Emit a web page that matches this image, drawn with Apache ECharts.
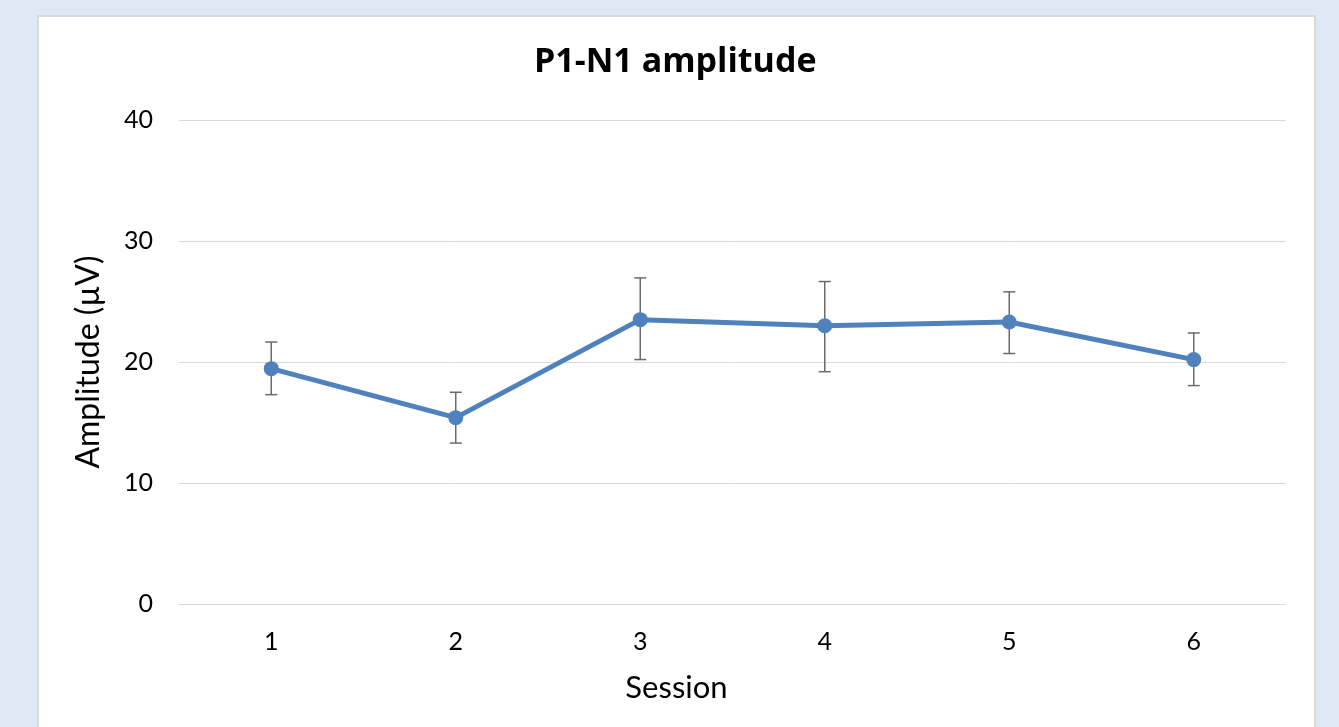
<!DOCTYPE html>
<html>
<head>
<meta charset="utf-8">
<script src="https://cdn.jsdelivr.net/npm/echarts@6/dist/echarts.min.js"></script>
<style>
  html, body { margin: 0; padding: 0; background: #dee9f5; overflow: hidden; }
  #panel { position: absolute; left: 37px; top: 15px; width: 1275px; height: 760px; background: #fff; border: 2px solid #d9d9d9; }
  #main { position: absolute; left: 0; top: 0; width: 1339px; height: 727px; }
</style>
</head>
<body>
<div id="panel"></div>
<div id="main"></div>
<script>
// P1-N1 amplitude per session, with error bar ends
const sessions = ['1', '2', '3', '4', '5', '6'];
const amplitude = [19.45, 15.4, 23.5, 23.0, 23.3, 20.2];
const errHigh = [21.65, 17.5, 26.95, 26.65, 25.8, 22.4];
const errLow = [17.3, 13.3, 20.2, 19.2, 20.7, 18.05];

const chart = echarts.init(document.getElementById('main'));
const font = 'Lato, "Open Sans", sans-serif';

const errData = sessions.map((s, i) => [i, errLow[i], errHigh[i]]);

chart.setOption({
  backgroundColor: 'transparent',
  animation: false,
  title: {
    text: 'P1-N1 amplitude',
    left: 534,
    top: 45,
    padding: 0,
    textStyle: { fontFamily: '"Open Sans", sans-serif', fontSize: 34, fontWeight: 'bold', color: '#000' }
  },
  grid: { left: 179, right: 53, top: 120, bottom: 123 },
  xAxis: {
    type: 'category',
    data: sessions,
    boundaryGap: true,
    name: 'Session',
    nameLocation: 'middle',
    nameGap: 68,
    nameTextStyle: { fontFamily: font, fontSize: 31, color: '#000', padding: [0, 112, 0, 0] },
    axisLine: { lineStyle: { color: '#d9d9d9' } },
    axisTick: { show: false },
    axisLabel: { fontFamily: font, fontSize: 25, color: '#000', margin: 25 }
  },
  yAxis: {
    type: 'value',
    min: 0,
    max: 40,
    interval: 10,
    name: 'Amplitude (µV)',
    nameLocation: 'middle',
    nameGap: 74,
    nameTextStyle: { fontFamily: font, fontSize: 32, color: '#000' },
    axisLine: { show: false },
    axisTick: { show: false },
    splitLine: { lineStyle: { color: '#d9d9d9', width: 1 } },
    axisLabel: { fontFamily: font, fontSize: 25, color: '#000', margin: 26 }
  },
  series: [
    {
      type: 'custom',
      z: 1,
      data: errData,
      renderItem: function (params, api) {
        const x = api.value(0);
        const lo = api.coord([x, api.value(1)]);
        const hi = api.coord([x, api.value(2)]);
        const hw = 6;
        const st = { stroke: '#6b6b6b', lineWidth: 1.5 };
        return {
          type: 'group',
          children: [
            { type: 'line', shape: { x1: hi[0], y1: hi[1], x2: lo[0], y2: lo[1] }, style: st },
            { type: 'line', shape: { x1: hi[0] - hw, y1: hi[1], x2: hi[0] + hw, y2: hi[1] }, style: st },
            { type: 'line', shape: { x1: lo[0] - hw, y1: lo[1], x2: lo[0] + hw, y2: lo[1] }, style: st }
          ]
        };
      }
    },
    {
      type: 'line',
      z: 2,
      data: amplitude,
      symbol: 'circle',
      symbolSize: 15,
      lineStyle: { color: '#4f81bd', width: 5 },
      itemStyle: { color: '#4f81bd' }
    }
  ]
});
</script>
</body>
</html>
